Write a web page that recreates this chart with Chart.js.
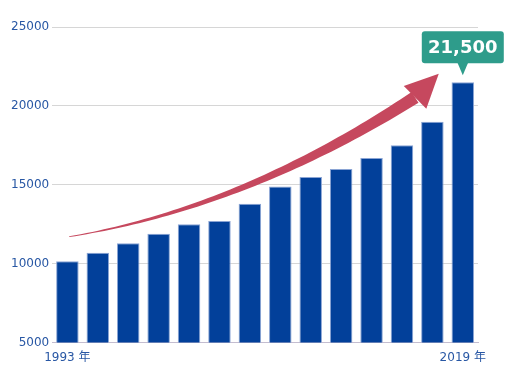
<!DOCTYPE html>
<html>
<head>
<meta charset="utf-8">
<script src="https://cdn.jsdelivr.net/npm/chart.js@4/dist/chart.umd.min.js"></script>
<style>
  body { margin: 0; background: #fff; }
</style>
</head>
<body>
<canvas id="chart" width="509" height="369"></canvas>
<script>
// data
var years = [1993, 1995, 1997, 1999, 2001, 2003, 2005, 2007, 2009, 2011, 2013, 2015, 2017, 2019];
var values = [10150, 10700, 11300, 11900, 12500, 12700, 13800, 14900, 15500, 16000, 16700, 17500, 19000, 21500];
var yTicks = [5000, 10000, 15000, 20000, 25000];
var calloutText = '21,500';

var blueText = '#2857a4';
var font = "'DejaVu Sans', 'Noto Sans CJK JP', sans-serif";

// curved arrow + callout, placed in (bar index, value) units
var decorPlugin = {
    id: 'decor',
    afterDatasetsDraw: function (chart) {
        var ctx = chart.ctx;
        var xs = chart.scales.x, ys = chart.scales.y;
        function pt(i, v) {
            var step = xs.getPixelForValue(1) - xs.getPixelForValue(0);
            return [xs.getPixelForValue(0) + step * i, ys.getPixelForValue(v)];
        }
        var p0 = pt(0.06, 11710), c = pt(5.79, 13540), p2 = pt(11.43, 20540);
        var tip = pt(12.21, 22030);

        function bez(t, k) {
            var u = 1 - t;
            return u * u * p0[k] + 2 * u * t * c[k] + t * t * p2[k];
        }
        function der(t, k) {
            return 2 * (1 - t) * (c[k] - p0[k]) + 2 * t * (p2[k] - c[k]);
        }
        var upper = [], lower = [];
        var n = 60;
        for (var s = 0; s <= n; s++) {
            var t = s / n;
            var x = bez(t, 0), y = bez(t, 1);
            var dx = der(t, 0), dy = der(t, 1);
            var len = Math.sqrt(dx * dx + dy * dy) || 1;
            var nx = -dy / len, ny = dx / len;
            var w = (0.8 + 12 * Math.pow(t, 1.2)) / 2;
            upper.push([x + nx * w, y + ny * w]);
            lower.push([x - nx * w, y - ny * w]);
        }
        ctx.save();
        ctx.fillStyle = '#c6485e';
        ctx.beginPath();
        ctx.moveTo(upper[0][0], upper[0][1]);
        upper.forEach(function (p) { ctx.lineTo(p[0], p[1]); });
        for (var j = lower.length - 1; j >= 0; j--) ctx.lineTo(lower[j][0], lower[j][1]);
        ctx.closePath();
        ctx.fill();

        // arrow head
        var hx = tip[0] - p2[0], hy = tip[1] - p2[1];
        var hl = Math.sqrt(hx * hx + hy * hy);
        var px = -hy / hl, py = hx / hl;
        var hw = 16;
        ctx.beginPath();
        ctx.moveTo(tip[0], tip[1]);
        ctx.lineTo(p2[0] + px * hw, p2[1] + py * hw);
        ctx.lineTo(p2[0] - px * hw, p2[1] - py * hw);
        ctx.closePath();
        ctx.fill();

        // callout above last bar
        var last = values.length - 1;
        var bx = xs.getPixelForValue(last);
        var by = ys.getPixelForValue(values[last]) - 7;
        var boxW = 82, boxH = 32, ptrH = 12, ptrW = 11;
        var left = bx - boxW / 2, top = by - ptrH - boxH;
        ctx.fillStyle = '#2e9c8b';
        ctx.beginPath();
        ctx.roundRect(left, top, boxW, boxH, 3);
        ctx.fill();
        ctx.beginPath();
        ctx.moveTo(bx - ptrW / 2, top + boxH - 1);
        ctx.lineTo(bx + ptrW / 2, top + boxH - 1);
        ctx.lineTo(bx, by);
        ctx.closePath();
        ctx.fill();
        ctx.fillStyle = '#ffffff';
        ctx.font = "bold 18px " + font;
        ctx.textAlign = 'center';
        ctx.textBaseline = 'middle';
        ctx.fillText(calloutText, bx, top + boxH / 2 + 1);
        ctx.restore();
    }
};

var canvasElement = document.getElementById("chart");
var config = {
    type: "bar",
    data: {
        labels: years,
        datasets: [{
            data: values,
            backgroundColor: "#02409a",
            borderColor: "#8aa4d4",
            borderWidth: 1,
            barPercentage: 0.74,
            categoryPercentage: 1
        }]
    },
    options: {
        responsive: false,
        animation: false,
        layout: {
            padding: { left: 8, right: 31, top: 27, bottom: 4 }
        },
        plugins: {
            legend: { display: false },
            tooltip: { enabled: false }
        },
        scales: {
            x: {
                grid: { display: false },
                border: { display: true, color: '#c4bdd0', width: 1 },
                ticks: {
                    autoSkip: false,
                    maxRotation: 0,
                    padding: 0,
                    color: blueText,
                    font: { size: 12, family: font },
                    callback: function (val, idx) {
                        if (idx === 0 || idx === years.length - 1) return years[idx] + ' 年';
                        return '';
                    }
                }
            },
            y: {
                min: yTicks[0],
                max: yTicks[yTicks.length - 1],
                grid: { color: '#d6d6d6', drawTicks: false },
                border: { display: false },
                afterBuildTicks: function (axis) {
                    axis.ticks = yTicks.map(function (v) { return { value: v }; });
                },
                ticks: {
                    padding: 3,
                    color: blueText,
                    font: { size: 12, family: font },
                    callback: function (v) { return String(v); }
                }
            }
        }
    },
    plugins: [decorPlugin]
};
var chart = new Chart(canvasElement, config);
</script>
</body>
</html>
